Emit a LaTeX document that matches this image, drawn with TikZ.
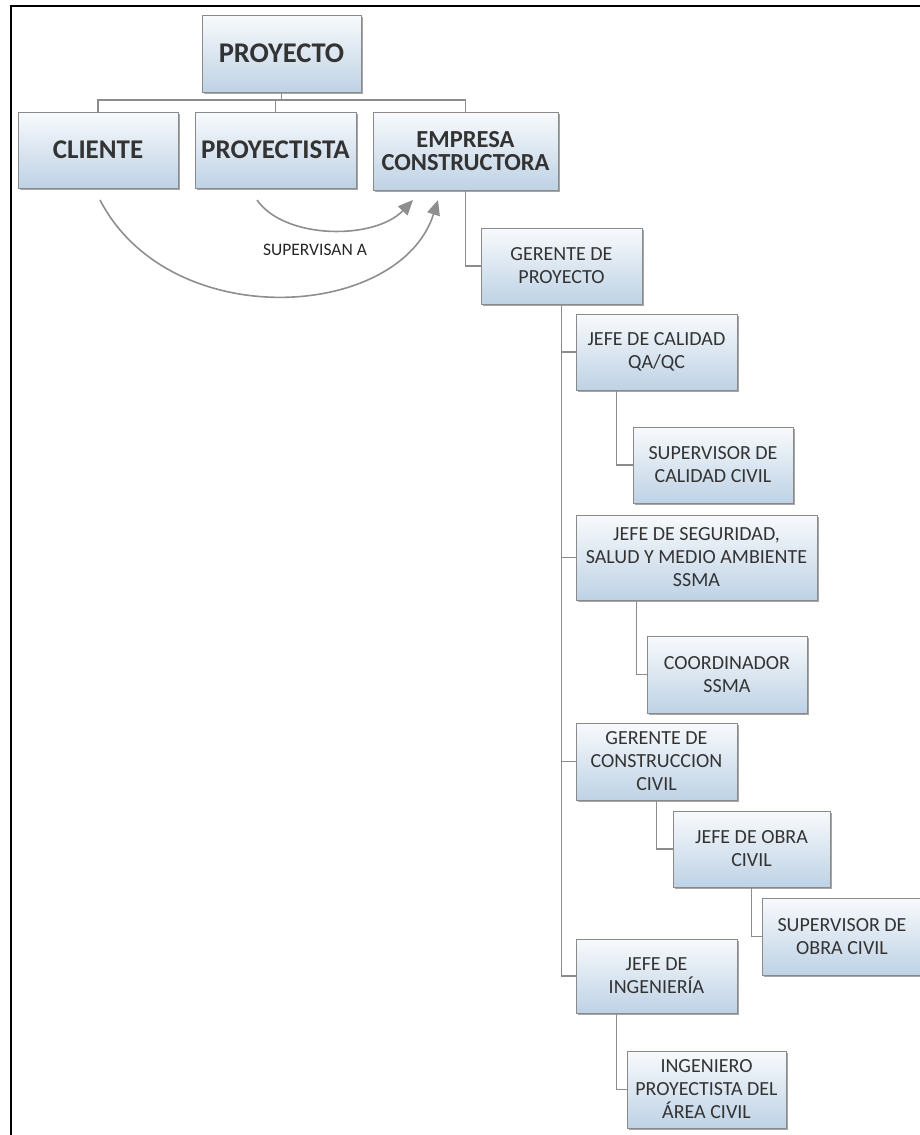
\documentclass[tikz,border=0pt]{standalone}
\usepackage{fontspec}
\setmainfont{Carlito}
\usetikzlibrary{shadows,arrows.meta}
\definecolor{boxtop}{HTML}{F8FAFC}
\definecolor{boxbot}{HTML}{BED2E5}
\definecolor{boxborder}{HTML}{8A8A8A}
\definecolor{txt}{HTML}{333333}
\definecolor{conn}{HTML}{8C8C8C}
\definecolor{arr}{HTML}{8E8E8E}
\tikzset{
  box/.style={draw=boxborder, line width=0.8pt, top color=boxtop, bottom color=boxbot,
    drop shadow={shadow xshift=2pt, shadow yshift=-2pt, opacity=0.35, fill=black},
    align=center, inner sep=2pt, text=txt},
  topbox/.style={box, minimum width=160pt, minimum height=76pt,
    font=\fontsize{27}{28}\selectfont\bfseries},
  subbox/.style={box, minimum width=161pt, minimum height=76pt,
    font=\fontsize{20}{23}\selectfont},
  conn/.style={draw=conn, line width=1.3pt},
  supar/.style={draw=arr, line width=1.6pt, -{Triangle[length=15pt,width=13pt]}},
}
\begin{document}
\begin{tikzpicture}[x=1pt,y=-1pt]
\useasboundingbox (0,0) rectangle (920,1135);
\draw[line width=2.5pt] (11,1140) -- (11,6) -- (925,6);

% top level
\node[topbox, minimum width=159pt, minimum height=77pt, font=\fontsize{28.5}{29}\selectfont\bfseries] (proy) at (281.5,53.5) {PROYECTO};
\node[topbox] (cli) at (98,150) {CLIENTE};
\node[topbox, minimum width=161pt] (proyt) at (275.5,150) {PROYECTISTA};
\node[topbox, minimum width=185pt, minimum height=78pt, font=\fontsize{24.5}{23.5}\selectfont\bfseries] (emp) at (465.5,151) {EMPRESA\\CONSTRUCTORA};

\coordinate (bar) at (0,100);
\draw[conn] (proy.south) -- (proy.south |- bar);
\draw[conn] (cli.north) -- (cli.north |- bar) -- (emp.north |- bar) -- (emp.north);
\draw[conn] (proyt.north) -- (proyt.north |- bar);

% lower levels
\node[subbox] (ger) at (561.5,266) {GERENTE DE\\PROYECTO};
\node[subbox] (jcal) at (656.5,352) {JEFE DE CALIDAD\\QA/QC};
\node[subbox, minimum width=160pt] (scal) at (713,465) {SUPERVISOR DE\\CALIDAD CIVIL};
\node[subbox, minimum width=241pt, minimum height=85pt] (jseg) at (696.5,557.5) {JEFE DE SEGURIDAD,\\SALUD Y MEDIO AMBIENTE\\SSMA};
\node[subbox, minimum width=160pt, minimum height=77pt] (coord) at (727,674.5) {COORDINADOR\\SSMA};
\node[subbox, minimum height=77pt] (gcon) at (656.5,761.5) {GERENTE DE\\CONSTRUCCION\\CIVIL};
\node[subbox, minimum width=157pt] (jobra) at (751.5,849) {JEFE DE OBRA\\CIVIL};
\node[subbox, minimum width=160pt, minimum height=77pt] (sobra) at (842,936.5) {SUPERVISOR DE\\OBRA CIVIL};
\node[subbox, minimum height=74pt] (jing) at (656.5,976) {JEFE DE\\INGENIERÍA};
\node[subbox, minimum width=159pt, minimum height=77pt] (ingp) at (706.5,1089.5) {INGENIERO\\PROYECTISTA DEL\\ÁREA CIVIL};

\draw[conn] (emp.south) |- (ger.west);
\draw[conn] (ger.south) |- (jing.west);
\draw[conn] (ger.south |- jcal.west) -- (jcal.west);
\draw[conn] (ger.south |- jseg.west) -- (jseg.west);
\draw[conn] (ger.south |- gcon.west) -- (gcon.west);
\draw[conn] ([xshift=-40pt]jcal.south) |- (scal.west);
\draw[conn] ([xshift=-60pt]jseg.south) |- (coord.west);
\draw[conn] (gcon.south) |- (jobra.west);
\draw[conn] (jobra.south) |- (sobra.west);
\draw[conn] ([xshift=-40pt]jing.south) |- (ingp.west);

% supervision arrows
\coordinate (pa) at (257,200);
\coordinate (pb) at (413,200);
\coordinate (ca) at (100,200);
\coordinate (cb) at (438,200);
\draw[supar] (pa) .. controls (285,240) and (375,240) .. (pb);
\draw[supar] (ca) .. controls (170,335) and (400,320) .. (cb);
\node[text=black!85, font=\fontsize{17.5}{18}\selectfont] (lbl) at (315,250) {SUPERVISAN A};
\end{tikzpicture}
\end{document}
